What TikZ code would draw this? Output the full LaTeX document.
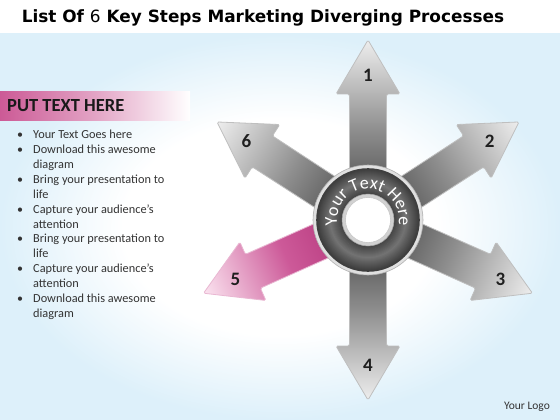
\documentclass[tikz,border=0pt]{standalone}
\usepackage{fontspec}
\setmainfont{Carlito}
\newfontfamily\titlefont{DejaVu Sans}
\usepackage{tikz}
\usetikzlibrary{calc,decorations.text}
\definecolor{bgblue}{HTML}{DDF0FA}
\definecolor{bandpink}{HTML}{CC5A96}
\definecolor{pinkdeep}{HTML}{C0307F}
\definecolor{pinktip}{HTML}{FBE4F0}
\definecolor{shaftdark}{HTML}{3A3A3A}
\definecolor{shaftmid}{HTML}{8E8E8E}
\definecolor{headlight}{HTML}{EEEEEE}
\definecolor{textgray}{HTML}{333333}
\pgfdeclareradialshading{slidebg}{\pgfpoint{0bp}{0bp}}{color(0bp)=(white); color(14bp)=(white); color(25bp)=(bgblue); color(50bp)=(bgblue)}
\tikzstyle{title}=[inner sep=0pt, font=\titlefont\bfseries\fontsize{16.9}{19}\selectfont, text=black]
\tikzstyle{heading}=[inner sep=0pt, anchor=west, font=\bfseries\fontsize{18.5}{20}\selectfont, text=black!90]
\tikzstyle{item}=[inner sep=0pt, anchor=base west, font=\fontsize{12.3}{14}\selectfont, text=textgray]
\tikzstyle{dot}=[inner sep=0pt, anchor=base, font=\fontsize{12}{14}\selectfont, text=textgray]
\tikzstyle{grey arrow}=[draw=black!25, line width=0.8pt, rounded corners=1.5pt, left color=shaftdark, right color=headlight, middle color=shaftmid]
\tikzstyle{pink arrow}=[draw=pinkdeep!35, line width=0.8pt, rounded corners=1.5pt, left color=pinkdeep!90!black, right color=pinktip, middle color=pinkdeep!80!white]
\tikzstyle{num}=[inner sep=0pt, font=\bfseries\fontsize{19}{19}\selectfont, text=black!88]
\tikzstyle{logo}=[inner sep=0pt, font=\fontsize{11.5}{13}\selectfont, text=textgray]
\begin{document}
\begin{tikzpicture}[x=1pt,y=1pt]
    \useasboundingbox (0,0) rectangle (560,-420);
    % background of the slide
    \fill[white] (0,0) rectangle (560,-420);
    \shade[shading=slidebg] (0,-34) rectangle (560,-420);
    \node[title] (title) at (263,-18) {List Of {\mdseries 6} Key Steps Marketing Diverging Processes};

    % left text panel
    \shade[left color=bandpink, right color=white, middle color=bandpink!55] (0,-92) rectangle (190,-120);
    \node[heading] (head) at (7,-106) {PUT TEXT HERE};
    \foreach \y/\txt/\dot [count=\i] in {134/Your Text Goes here/1, 149/Download this awesome/1, 164/diagram/0, 179/Bring your presentation to/1, 194/life/0, 209/Capture your audience’s/1, 224/attention/0, 238/Bring your presentation to/1, 253/life/0, 268/Capture your audience’s/1, 283/attention/0, 298/Download this awesome/1, 313/diagram/0}
    {
        \node[item] (line\i) at (33,-\y-4) {\txt};
        \ifnum\dot=1 \node[dot] (dot\i) at (20,-\y-4) {\textbullet}; \fi
    }

    % Then the six arrows out of the centre
    \coordinate (ctr) at (368,-220);
    \foreach \ang/\name/\lbl in {90/one/1, 33/two/2, -24/three/3, -90/four/4, 147/six/6}
    {
        \begin{scope}[transform canvas={shift={(368,-220)}, rotate=\ang}]
            \shade[grey arrow] (0,-18.5) -- (126,-18.5) -- (126,-32) -- (180,0) -- (126,32) -- (126,18.5) -- (0,18.5) -- cycle;
        \end{scope}
        \node[num] (\name) at ($(ctr)+(\ang:145)$) {\lbl};
    }
    \begin{scope}[transform canvas={shift={(368,-220)}, rotate=204}]
        \shade[pink arrow] (0,-18.5) -- (126,-18.5) -- (126,-32) -- (180,0) -- (126,32) -- (126,18.5) -- (0,18.5) -- cycle;
    \end{scope}
    \node[num] (five) at ($(ctr)+(204:145)$) {5};

    % centre ring
    \filldraw[fill=black!12, draw=black!30, line width=0.6pt] (ctr) circle (55);
    \foreach \i in {0,...,26}
    {
        \pgfmathsetmacro\p{45-abs(\i-13)*1.6}
        \draw[line width=1.6pt, draw=white!\p!black] (ctr) circle (25+\i);
    }
    \filldraw[fill=black!18, draw=black!35, line width=0.5pt] (ctr) circle (26);
    \filldraw[fill=white, draw=black!25, line width=0.4pt] (ctr) circle (22.5);
    \path[decorate, decoration={text along path, text align=center, text={|\fontsize{18}{18}\selectfont\color{white}|Your Text  Here}}] ($(ctr)+(215:31)$) arc (215:-35:31);

    \node[logo] (logo) at (527,-407) {Your Logo};
\end{tikzpicture}
\end{document}
